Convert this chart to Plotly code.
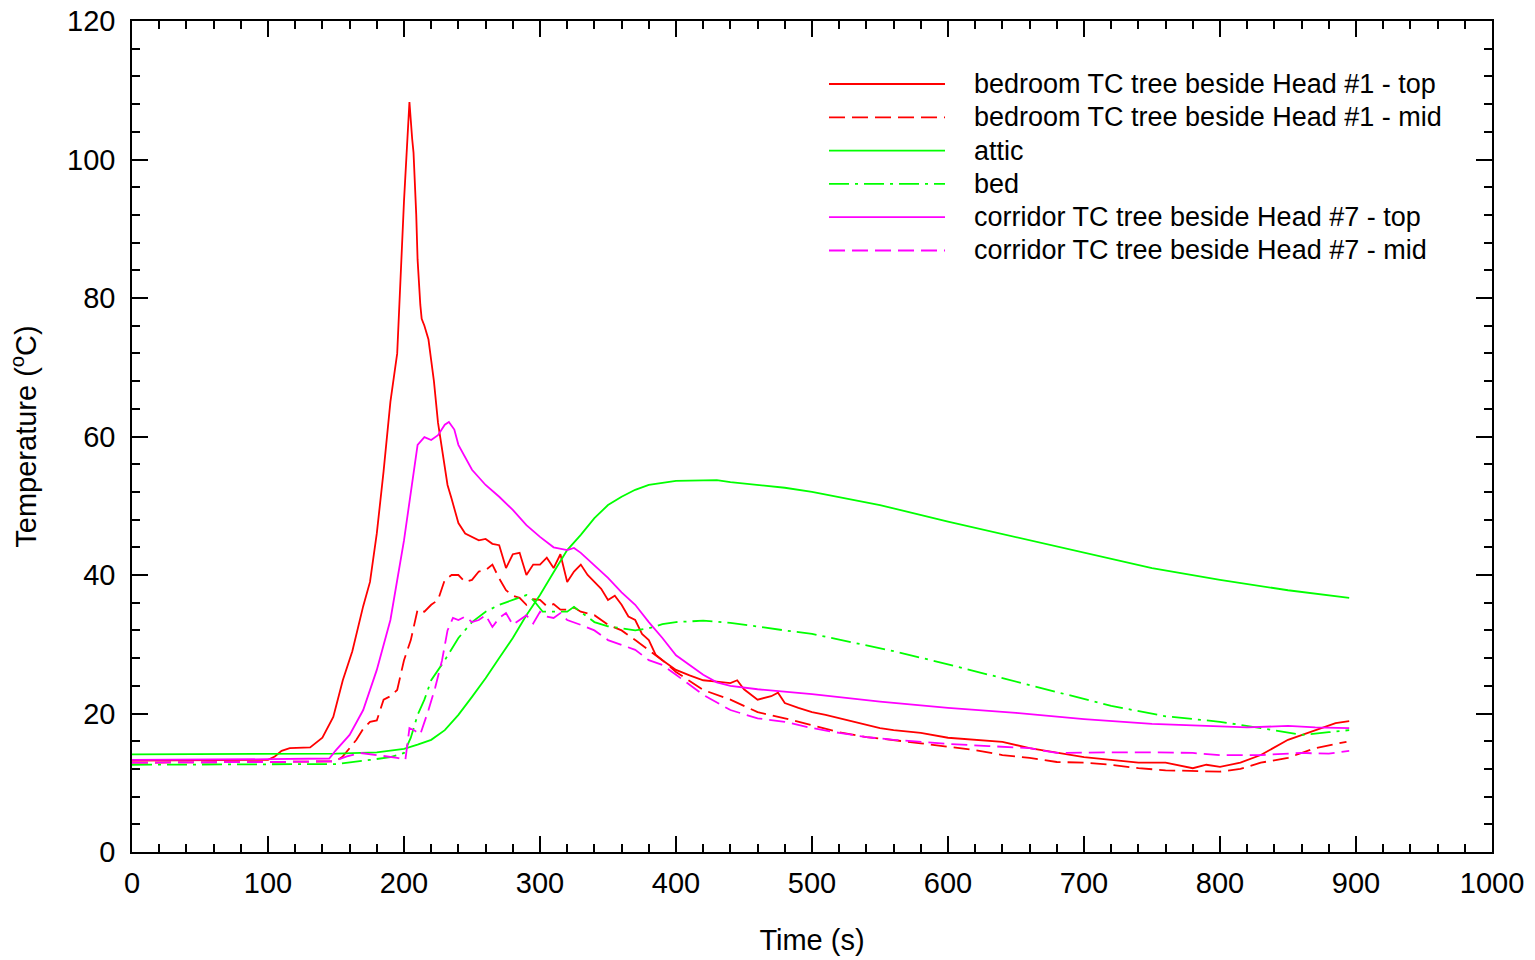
import plotly.graph_objects as go

# ---------------- data ----------------
bt_t = [0, 50, 100, 105, 110, 116, 125, 131, 140, 148, 155, 162, 170, 175, 180, 185, 190, 195, 200, 202, 204, 206, 207,
        209, 210, 212, 213, 215, 218, 220, 222, 225, 228, 232, 235, 240, 245, 250, 255, 260, 265, 270, 275, 280, 285,
        290, 295, 300, 305, 310, 315, 320, 325, 330, 335, 340, 345, 350, 355, 360, 365, 370, 375, 380, 385, 390, 395,
        400, 410, 420, 430, 440, 445, 450, 460, 470, 475, 480, 490, 500, 510, 520, 530, 540, 550, 560, 580, 600,
        620, 640, 660, 680, 700, 720, 740, 760, 780, 790, 800, 815, 830, 850, 870, 885, 895]
bt_v = [13.2, 13.2, 13.3, 13.8, 14.6, 15.0, 15.0, 15.1, 16.5, 19.5, 24.8, 29.0, 35.5, 39.0, 46.0, 55.0, 65.0, 72.0, 94.0,
        101.0, 108.3, 103.0, 101.0, 92.0, 85.5, 79.0, 77.0, 76.0, 74.0, 71.0, 68.0, 62.0, 58.0, 53.0, 51.0, 47.5,
        46.0, 45.5, 45.0, 45.2, 44.5, 44.3, 41.0, 43.0, 43.2, 40.0, 41.5, 41.5, 42.5, 41.0, 43.0, 39.0, 40.5, 41.5,
        40.0, 39.0, 38.0, 36.4, 37.0, 35.7, 34.0, 33.5, 31.5, 30.6, 28.5, 27.7, 27.0, 26.3, 25.5, 24.8, 24.6, 24.4,
        24.8, 23.5, 22.0, 22.5, 23.0, 21.5, 20.8, 20.2, 19.8, 19.3, 18.8, 18.3, 17.9, 17.6, 17.2, 16.5, 16.2, 15.9,
        15.0, 14.3, 13.7, 13.3, 12.9, 12.9, 12.1, 12.6, 12.3, 12.9, 14.0, 16.2, 17.6, 18.6, 18.9]

bm_t = [0, 50, 100, 150, 155, 160, 165, 170, 175, 180, 185, 190, 195, 200, 205, 210, 215, 220, 225, 230, 235, 240, 245,
        250, 255, 260, 265, 270, 275, 280, 285, 290, 295, 300, 305, 310, 315, 320, 325, 330, 340, 350, 360, 370, 380,
        390, 400, 420, 440, 460, 480, 500, 520, 540, 560, 580, 600, 620, 640, 660, 680, 700, 720, 740, 760, 780, 800,
        815, 830, 850, 870, 885, 893]
bm_v = [12.9, 12.9, 13.0, 13.1, 13.8, 15.0, 16.2, 17.8, 18.8, 19.0, 22.0, 22.5, 23.4, 27.7, 30.6, 35.0, 34.7, 35.7,
        36.4, 39.3, 40.0, 40.0, 39.0, 39.3, 40.5, 40.7, 41.5, 39.5, 37.8, 37.0, 36.7, 35.7, 36.5, 36.4, 35.5, 35.8,
        35.0, 35.0, 35.3, 34.7, 34.2, 32.8, 32.0, 30.6, 29.2, 27.7, 26.0, 23.4, 22.0, 20.2, 19.3, 18.3, 17.3, 16.6,
        16.2, 15.7, 15.2, 14.7, 14.0, 13.6, 13.0, 12.9, 12.6, 12.1, 11.8, 11.7, 11.6, 12.0, 12.9, 13.6, 15.0, 15.6, 15.9]

at_t = [0, 50, 100, 150, 180, 200, 210, 220, 230, 240, 250, 260, 270, 280, 290, 300, 310, 320, 330, 340, 350, 360, 370,
        380, 400, 420, 430, 440, 460, 480, 500, 550, 600, 650, 700, 750, 800, 850, 895]
at_v = [14.1, 14.1, 14.2, 14.2, 14.4, 14.9, 15.5, 16.2, 17.6, 19.8, 22.4, 25.1, 28.0, 30.9, 34.2, 37.1, 40.4, 43.6,
        45.8, 48.2, 50.1, 51.3, 52.3, 53.0, 53.6, 53.7, 53.7, 53.4, 53.0, 52.6, 52.0, 50.1, 47.7, 45.5, 43.2, 41.0,
        39.3, 37.8, 36.7]

bd_t = [0, 50, 100, 150, 175, 190, 200, 205, 210, 215, 220, 230, 240, 250, 260, 270, 280, 290, 295, 302, 310, 320,
        325, 330, 340, 350, 360, 370, 380, 390, 400, 420, 440, 460, 480, 500, 530, 560, 600, 640, 680, 720, 760, 800,
        830, 860, 880, 895]
bd_v = [12.6, 12.6, 12.6, 12.7, 13.3, 13.7, 14.3, 16.5, 19.8, 22.0, 24.8, 27.7, 30.9, 33.2, 34.7, 35.7, 36.4, 37.1,
        36.4, 34.7, 34.7, 34.7, 35.4, 34.7, 33.2, 32.6, 32.3, 32.0, 32.3, 32.9, 33.2, 33.4, 33.1, 32.5, 32.0, 31.5,
        30.3, 29.0, 27.1, 25.1, 23.1, 21.1, 19.6, 18.8, 17.9, 16.9, 17.3, 17.6]

ct_t = [0, 50, 100, 145, 150, 160, 170, 180, 190, 200, 205, 210, 215, 220, 225, 230, 233, 237, 240, 245, 250, 260, 270,
        280, 290, 300, 310, 320, 325, 330, 340, 350, 360, 370, 380, 390, 400, 410, 420, 430, 440, 460, 480, 500, 550,
        600, 650, 700, 750, 800, 820, 850, 870, 895]
ct_v = [13.3, 13.3, 13.4, 13.5, 14.7, 16.9, 20.5, 26.3, 33.5, 45.0, 52.3, 58.8, 59.9, 59.5, 60.2, 61.7, 62.1, 61.0,
        58.8, 57.0, 55.2, 53.0, 51.3, 49.4, 47.2, 45.5, 44.0, 43.6, 43.9, 43.2, 41.4, 39.6, 37.5, 35.7, 33.2, 30.9,
        28.4, 27.0, 25.6, 24.5, 24.0, 23.5, 23.2, 22.8, 21.7, 20.8, 20.1, 19.2, 18.5, 18.2, 18.0, 18.2, 18.0, 17.9]

cm_t = [0, 50, 100, 148, 158, 168, 180, 195, 201, 204, 208, 212, 218, 223, 228, 232, 236, 240, 245, 250, 255, 260, 265,
        270, 275, 280, 285, 290, 295, 300, 305, 310, 315, 320, 330, 340, 350, 360, 370, 380, 390, 400, 420, 440, 460,
        480, 500, 520, 540, 560, 580, 600, 630, 660, 680, 700, 720, 750, 780, 800, 830, 860, 880, 895]
cm_v = [12.9, 12.9, 13.0, 13.1, 13.8, 14.3, 14.0, 13.6, 13.3, 17.9, 17.5, 17.0, 20.5, 23.8, 27.7, 32.0, 33.8, 33.5,
        34.0, 33.2, 33.5, 34.2, 32.5, 33.8, 34.5, 32.8, 33.5, 34.2, 33.0, 34.7, 34.0, 33.8, 34.5, 33.5, 32.8, 32.0,
        30.6, 29.9, 29.2, 27.7, 27.0, 25.6, 22.7, 20.5, 19.3, 18.8, 17.9, 17.2, 16.6, 16.2, 15.9, 15.6, 15.3, 15.0,
        14.3, 14.4, 14.4, 14.4, 14.3, 14.0, 14.0, 14.3, 14.2, 14.6]

legend_labels = ["bedroom TC tree beside Head #1 - top", "bedroom TC tree beside Head #1 - mid", "attic", "bed",
                 "corridor TC tree beside Head #7 - top", "corridor TC tree beside Head #7 - mid"]
x_ticks = [0, 100, 200, 300, 400, 500, 600, 700, 800, 900, 1000]
y_ticks = [0, 20, 40, 60, 80, 100, 120]

RED = "#ff0000"
GREEN = "#00ff00"
MAG = "#ff00ff"
DASH = "16px,7px"
DASHDOT = "20px,6px,3px,6px"
series = [
    (bt_t, bt_v, RED, "solid"),
    (bm_t, bm_v, RED, DASH),
    (at_t, at_v, GREEN, "solid"),
    (bd_t, bd_v, GREEN, DASHDOT),
    (ct_t, ct_v, MAG, "solid"),
    (cm_t, cm_v, MAG, DASH),
]

FAM = "Liberation Sans, Arial, sans-serif"
fig = go.Figure()
for (t, v, c, d), name in zip(series, legend_labels):
    fig.add_trace(go.Scatter(x=t, y=v, mode="lines", name=name, showlegend=False,
                             line=dict(color=c, width=1.8, dash=d)))

# manual legend (long line samples like the reference); paper coords of the plot area
leg_font = dict(family=FAM, size=27, color="black")
row_y0 = 1 - (84 - 21) / 831
row_step = 33.3 / 831
x_line0 = (829 - 132) / 1360
x_line1 = (945 - 132) / 1360
x_text = (972 - 132) / 1360
for i, ((t, v, c, d), name) in enumerate(zip(series, legend_labels)):
    yy = row_y0 - i * row_step
    fig.add_shape(type="line", xref="paper", yref="paper", x0=x_line0, x1=x_line1, y0=yy, y1=yy,
                  line=dict(color=c, width=1.8, dash=d))
    fig.add_annotation(xref="paper", yref="paper", x=x_text, y=yy, text=name, showarrow=False,
                       xanchor="left", yanchor="middle", font=leg_font)

font = dict(family=FAM, size=29, color="black")
axis_common = dict(showline=True, linecolor="black", linewidth=1.5, mirror="ticks", ticks="inside",
                   tickcolor="black", tickwidth=1.5, ticklen=16, showgrid=False, zeroline=False,
                   tickfont=font, automargin=False, ticklabeloverflow="allow")
fig.update_xaxes(range=[0, 1000], tickvals=x_ticks, ticklabelstandoff=4,
                 title=dict(text="Time (s)", font=font, standoff=32),
                 minor=dict(ticks="inside", ticklen=8, dtick=20, tick0=0, tickcolor="black", tickwidth=1.5,
                            showgrid=False),
                 **axis_common)
fig.update_yaxes(range=[0, 120], tickvals=y_ticks, ticklabelstandoff=9,
                 title=dict(text="Temperature (<sup>o</sup>C)", font=font, standoff=22),
                 minor=dict(ticks="inside", ticklen=8, dtick=4, tick0=0, tickcolor="black", tickwidth=1.5,
                            showgrid=False),
                 **axis_common)
fig.update_layout(width=1535, height=960, plot_bgcolor="white", paper_bgcolor="white",
                  margin=dict(l=132, r=43, t=21, b=108), font=font, showlegend=False)
# remove the browser's default 8px body margin so the figure fills the window exactly
fig.write_html("out.html", config={"displayModeBar": False},
               post_script="document.body.style.margin='0';")
